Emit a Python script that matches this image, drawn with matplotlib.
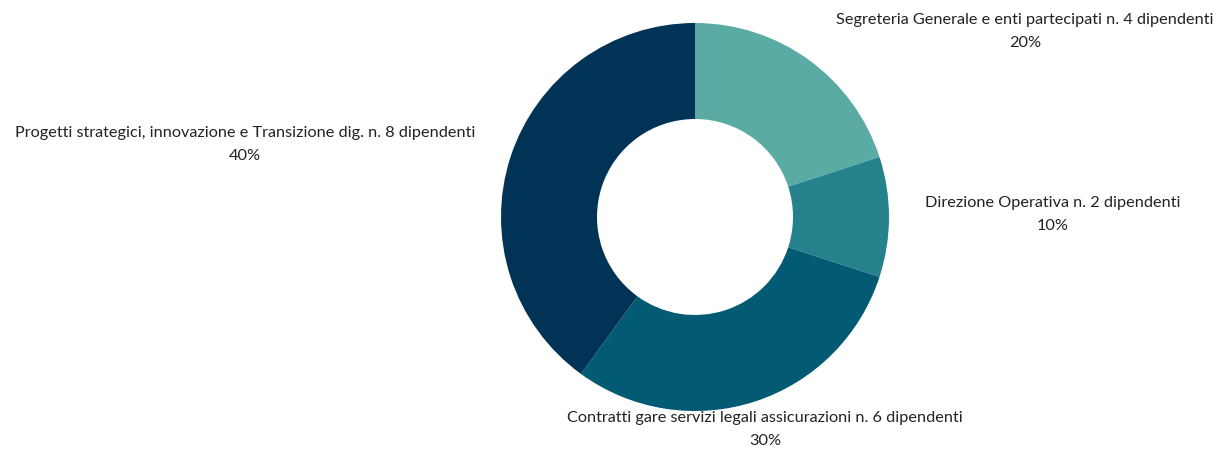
import matplotlib.pyplot as plt

# slice data (clockwise from top)
labels = [
    "Segreteria Generale e enti partecipati n. 4 dipendenti",
    "Direzione Operativa n. 2 dipendenti",
    "Contratti gare servizi legali assicurazioni n. 6 dipendenti",
    "Progetti strategici, innovazione e Transizione dig. n. 8 dipendenti",
]
employees = [4, 2, 6, 8]
colors = ["#5aaba3", "#25818b", "#035a73", "#003356"]

plt.rcParams['font.family'] = ['Lato', 'DejaVu Sans']

fig = plt.figure(figsize=(12.32, 4.5), dpi=100)
ax = fig.add_axes([0, 0, 1, 1])
ax.set_aspect('equal')
ax.axis('off')

# axes in pixel units, donut centred at (695, 217) from top-left
ax.pie(employees, colors=colors, startangle=90, counterclock=False,
       center=(695, 450 - 217), radius=194,
       wedgeprops=dict(width=96, linewidth=0))
ax.set_xlim(0, 1232)
ax.set_ylim(0, 450)

total = sum(employees)
# label anchor positions (pixel coords, y from top)
label_pos = [(1025, 20), (1053, 203), (765, 418), (245, 133)]
for lab, val, (x, y) in zip(labels, employees, label_pos):
    pct = round(100 * val / total)
    ax.text(x, 450 - y, lab, ha='center', va='center', fontsize=11.7, color='#222222')
    ax.text(x, 450 - y - 23, f"{pct}%", ha='center', va='center', fontsize=11.7, color='#222222')

fig.savefig('out.png', dpi=100)
